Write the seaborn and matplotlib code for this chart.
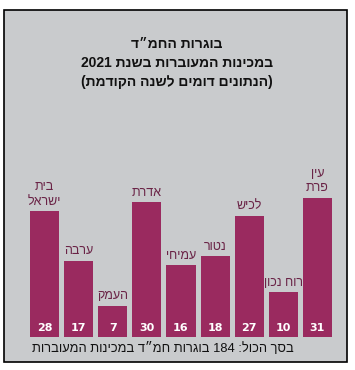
import re
import matplotlib
matplotlib.use("Agg")
import matplotlib.pyplot as plt
from matplotlib.patches import Rectangle
import seaborn as sns
import pandas as pd

# ---- data (left-to-right as drawn) ----
categories = ["בית\nישראל", "ערבה", "העמק", "אדרת", "עמיחי", "נטור", "לכיש", "רוח נכון", "עין\nפרת"]
values = [28, 17, 7, 30, 16, 18, 27, 10, 31]
title_lines = ["בוגרות החמ״ד", "במכינות המעוברות בשנת 2021", "(הנתונים דומים לשנה הקודמת)"]
footer = "בסך הכול: 184 בוגרות חמ״ד במכינות המעוברות"

BAR = "#9a2a5f"
LABEL = "#6a2346"
PANEL = "#c9cbcd"


def vis(s):
    """Very small bidi helper: turn logical RTL text into visual LTR order."""
    out = []
    for line in s.split("\n"):
        r = line[::-1]
        r = re.sub(r"[0-9A-Za-z.,]+", lambda m: m.group(0)[::-1], r)
        r = r.translate(str.maketrans("()", ")("))
        out.append(r)
    return "\n".join(out)


sns.set_style("white")
plt.rcParams["font.family"] = ["Liberation Sans", "DejaVu Sans"]

W, H = 355, 370
fig = plt.figure(figsize=(W / 100, H / 100), dpi=100)
fig.patch.set_facecolor("white")

# grey panel with black frame
fig.patches.append(Rectangle((4 / W, 1 - 362 / H), 343 / W, 352 / H,
                             transform=fig.transFigure, facecolor=PANEL,
                             edgecolor="black", linewidth=1.2, zorder=-5))

# axes: bar centres 44.5 .. 317.5 px, baseline at y=337 px
pitch = (317.5 - 44.5) / 8
x0 = 44.5 - pitch / 2
ymax = 40
px_per_unit = 4.5
ax_h = ymax * px_per_unit
ax = fig.add_axes([x0 / W, 1 - 337 / H, 9 * pitch / W, ax_h / H])
ax.set_facecolor("none")
ax.set_zorder(2)

df = pd.DataFrame({"cat": categories, "val": values})
sns.barplot(data=df, x="cat", y="val", ax=ax, color=BAR, saturation=1,
            width=0.85, order=categories, linewidth=0, edgecolor="none")
ax.set_xlim(-0.5, 8.5)
ax.set_ylim(0, ymax)
ax.set_axis_off()

for i, (c, v) in enumerate(zip(categories, values)):
    ax.text(i, 1.9, str(v), ha="center", va="center", color="white",
            fontsize=8, fontweight="bold", family=["DejaVu Sans"])
    ax.text(i, v + 0.7, vis(c), ha="center", va="bottom", color=LABEL,
            fontsize=9, linespacing=1.3)

# title
for k, t in enumerate(title_lines):
    fig.text(177 / W, 1 - (44 + 19 * k) / H, vis(t), ha="center", va="center",
             fontsize=10, fontweight="bold", color="#111111")

# footer
fig.text(163 / W, 1 - 349 / H, vis(footer), ha="center", va="center",
         fontsize=9.3, color="#111111")

fig.savefig("out.png", dpi=100, facecolor="white")
